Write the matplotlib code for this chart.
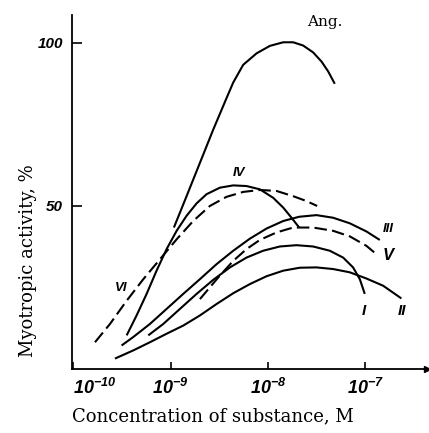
import numpy as np
import matplotlib
matplotlib.use("Agg")
import matplotlib.pyplot as plt
from matplotlib.ticker import FixedLocator, FixedFormatter

# ---- data: log10 concentration (M) and myotropic activity (%) ----
ang_logc = [-8.966, -8.836, -8.699, -8.562, -8.426, -8.357, -8.255, -8.118, -7.981,
            -7.844, -7.742, -7.639, -7.537, -7.451, -7.383, -7.315]
ang_act = [43.4, 53.0, 63.2, 73.4, 83.0, 87.8, 93.2, 96.7, 99.0,
           100.1, 100.1, 99.1, 97.0, 94.2, 91.2, 87.4]

iv_logc = [-9.451, -9.349, -9.246, -9.144, -9.041, -8.938, -8.836, -8.733, -8.631,
           -8.494, -8.357, -8.221, -8.084, -7.947, -7.844, -7.759, -7.680]
iv_act = [10.4, 16.5, 23.1, 30.2, 36.8, 42.4, 47.0, 50.8, 53.6,
          55.6, 56.3, 56.1, 55.1, 52.5, 49.5, 46.4, 43.4]

vi_logc = [-9.776, -9.622, -9.451, -9.280, -9.109, -8.938, -8.768, -8.597, -8.426,
           -8.255, -8.084, -7.913, -7.742, -7.605, -7.496]
vi_act = [8.3, 13.9, 21.0, 27.6, 33.7, 39.8, 45.4, 50.0, 52.8,
          54.3, 54.9, 54.6, 53.0, 51.5, 50.0]

iii_logc = [-9.503, -9.383, -9.212, -9.041, -8.870, -8.699, -8.528, -8.357, -8.186,
            -8.015, -7.844, -7.680, -7.503, -7.332, -7.161, -6.990, -6.853]
iii_act = [7.3, 9.9, 13.9, 18.5, 23.1, 27.6, 32.2, 36.3, 40.0,
           43.1, 45.4, 46.7, 47.2, 46.4, 44.7, 42.2, 39.6]

v_logc = [-8.699, -8.597, -8.494, -8.357, -8.221, -8.084, -7.913, -7.742, -7.537,
          -7.332, -7.161, -6.990, -6.870]
v_act = [21.5, 25.1, 28.7, 33.2, 36.8, 39.6, 41.9, 43.4, 43.4,
         42.4, 40.7, 37.8, 34.8]

i_logc = [-9.229, -9.075, -8.904, -8.733, -8.562, -8.391, -8.221, -8.050, -7.879,
          -7.708, -7.537, -7.366, -7.229, -7.127, -7.058, -7.007]
i_act = [10.4, 13.9, 18.5, 23.1, 27.4, 31.2, 34.2, 36.3, 37.6,
         38.0, 37.6, 36.3, 34.2, 31.2, 27.6, 23.1]

ii_logc = [-9.571, -9.383, -9.212, -9.041, -8.870, -8.699, -8.528, -8.357, -8.186,
           -8.015, -7.844, -7.674, -7.503, -7.332, -7.161, -6.990, -6.819, -6.631]
ii_act = [3.3, 5.8, 8.3, 10.9, 13.4, 16.5, 20.0, 23.3, 26.1,
          28.5, 30.2, 31.1, 31.2, 30.7, 29.7, 27.8, 25.6, 21.7]

x_tick_values = [1e-10, 1e-9, 1e-8, 1e-7]
x_tick_labels = [r"$10^{-10}$", r"$10^{-9}$", r"$10^{-8}$", r"$10^{-7}$"]
y_tick_values = [50, 100]
y_tick_labels = ["50", "100"]

# ---- styling ----
plt.rcParams["mathtext.fontset"] = "custom"
plt.rcParams["mathtext.it"] = "Liberation Sans:italic:bold"
plt.rcParams["mathtext.rm"] = "Liberation Sans:italic:bold"
plt.rcParams["mathtext.default"] = "it"

fig = plt.figure(figsize=(4.29, 4.33), dpi=100)
ax = fig.add_axes([0.1667, 0.147, 0.8287, 0.818])

lw = 1.5
dash = (6, 2.5)
curves = [
    (ang_logc, ang_act, "-"),
    (iv_logc, iv_act, "-"),
    (vi_logc, vi_act, "--"),
    (iii_logc, iii_act, "-"),
    (v_logc, v_act, "--"),
    (i_logc, i_act, "-"),
    (ii_logc, ii_act, "-"),
]
for lc, act, ls in curves:
    conc = np.power(10.0, np.array(lc))
    line, = ax.plot(conc, act, color="black", lw=lw, solid_capstyle="butt")
    if ls == "--":
        line.set_dashes(dash)

ax.set_xscale("log")
ax.set_xlim(10 ** -10.017, 10 ** -6.368)
ax.set_ylim(0, 108.4)

for s in ["top", "right"]:
    ax.spines[s].set_visible(False)
for s in ["left", "bottom"]:
    ax.spines[s].set_linewidth(1.3)

ax.xaxis.set_major_locator(FixedLocator(x_tick_values))
ax.xaxis.set_major_formatter(FixedFormatter(x_tick_labels))
ax.xaxis.set_minor_locator(FixedLocator([]))
ax.yaxis.set_major_locator(FixedLocator(y_tick_values))
ax.yaxis.set_major_formatter(FixedFormatter(y_tick_labels))

ax.tick_params(axis="x", direction="in", length=5, width=1.2, pad=6, labelsize=13)
ax.tick_params(axis="y", direction="in", length=7, width=1.2, pad=6)
for lab in ax.get_yticklabels():
    lab.set_fontfamily("Liberation Sans")
    lab.set_fontweight("bold")
    lab.set_fontstyle("italic")
    lab.set_fontsize(11)
fig.canvas.draw()
xl = ax.get_xticklabels()
xl[0].set_horizontalalignment("left")

ax.set_xlabel("Concentration of substance, M", family="DejaVu Serif", fontsize=13)
ax.xaxis.set_label_coords(0.398, -0.106)
ax.set_ylabel("Myotropic activity, %", family="DejaVu Serif", fontsize=13)
ax.yaxis.set_label_coords(-0.097, 0.306)

# arrow head on x axis
ax.plot(1, 0, marker=">", color="black", markersize=4, transform=ax.get_yaxis_transform(), clip_on=False)

# curve labels
lab_kw = dict(family="Liberation Sans", fontweight="bold", fontstyle="italic",
              fontsize=9.5, ha="center", va="center")
ax.text(10 ** -8.299, 60.0, "IV", **lab_kw)
ax.text(10 ** -9.509, 24.9, "VI", **lab_kw)
ax.text(10 ** -6.768, 43.1, "III", **lab_kw)
ax.text(10 ** -6.768, 34.8, "V", **dict(lab_kw, fontsize=12))
ax.text(10 ** -7.017, 18.0, "I", **dict(lab_kw, fontsize=11))
ax.text(10 ** -6.624, 18.0, "II", **dict(lab_kw, fontsize=11))
ax.text(10 ** -7.417, 106.3, "Ang.", family="DejaVu Serif", fontsize=11, ha="center", va="center")

fig.savefig("out.png", dpi=100)
